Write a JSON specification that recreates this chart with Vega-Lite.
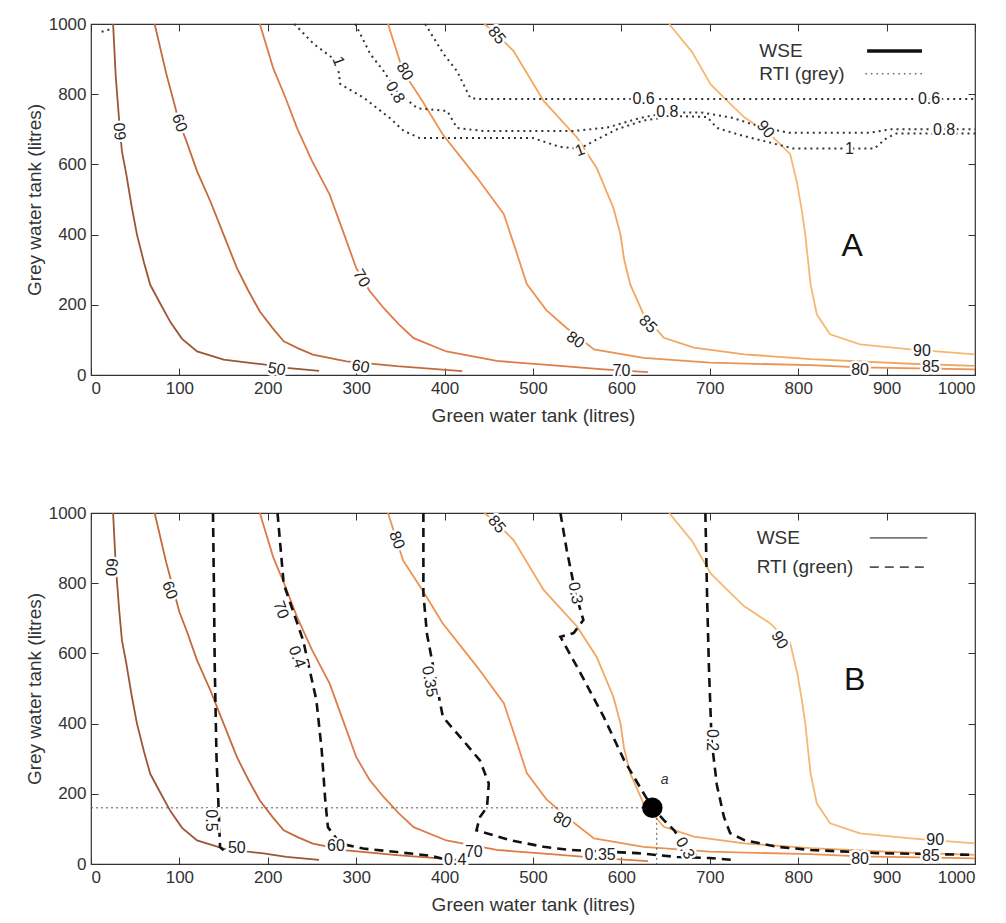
{
  "$schema": "https://vega.github.io/schema/vega-lite/v6.json",
  "padding": {"left": 24, "top": 14, "right": 4, "bottom": 2},
  "background": "white",
  "spacing": 77,
  "config": {
    "font": "Liberation Sans",
    "view": {"stroke": "#333", "strokeWidth": 1.2},
    "axis": {
      "grid": false,
      "labelFont": "Liberation Sans",
      "labelFontSize": 17,
      "labelColor": "#333",
      "titleFont": "Liberation Sans",
      "titleFontSize": 19,
      "titleFontWeight": "normal",
      "titleColor": "#333",
      "tickColor": "#333",
      "domainColor": "#333",
      "tickSize": -7,
      "labelPadding": 12,
      "domain": false,
      "format": "d"
    },
    "axisX": {"titlePadding": 10}
  },
  "datasets": {
    "wse": [
      {"c": "50", "x": 25, "y": 1000}, {"c": "50", "x": 28, "y": 850}, {"c": "50", "x": 32, "y": 720}, {"c": "50", "x": 35, "y": 637}, {"c": "50", "x": 40, "y": 571}, {"c": "50", "x": 46, "y": 480}, {"c": "50", "x": 52, "y": 400}, {"c": "50", "x": 60, "y": 320}, {"c": "50", "x": 67, "y": 257}, {"c": "50", "x": 78, "y": 205}, {"c": "50", "x": 90, "y": 150}, {"c": "50", "x": 103, "y": 103}, {"c": "50", "x": 120, "y": 67}, {"c": "50", "x": 150, "y": 44}, {"c": "50", "x": 195, "y": 30}, {"c": "50", "x": 221, "y": 20}, {"c": "50", "x": 258, "y": 12},
      {"c": "60", "x": 72, "y": 1000}, {"c": "60", "x": 85, "y": 860}, {"c": "60", "x": 100, "y": 718}, {"c": "60", "x": 108, "y": 666}, {"c": "60", "x": 120, "y": 580}, {"c": "60", "x": 135, "y": 495}, {"c": "60", "x": 150, "y": 400}, {"c": "60", "x": 165, "y": 305}, {"c": "60", "x": 178, "y": 240}, {"c": "60", "x": 191, "y": 181}, {"c": "60", "x": 205, "y": 135}, {"c": "60", "x": 218, "y": 96}, {"c": "60", "x": 235, "y": 75}, {"c": "60", "x": 251, "y": 58}, {"c": "60", "x": 289, "y": 39}, {"c": "60", "x": 346, "y": 25}, {"c": "60", "x": 420, "y": 11},
      {"c": "70", "x": 191, "y": 1000}, {"c": "70", "x": 206, "y": 875}, {"c": "70", "x": 220, "y": 790}, {"c": "70", "x": 233, "y": 704}, {"c": "70", "x": 250, "y": 610}, {"c": "70", "x": 270, "y": 514}, {"c": "70", "x": 285, "y": 410}, {"c": "70", "x": 300, "y": 305}, {"c": "70", "x": 315, "y": 240}, {"c": "70", "x": 331, "y": 191}, {"c": "70", "x": 348, "y": 145}, {"c": "70", "x": 365, "y": 105}, {"c": "70", "x": 402, "y": 67}, {"c": "70", "x": 459, "y": 40}, {"c": "70", "x": 520, "y": 28}, {"c": "70", "x": 580, "y": 16}, {"c": "70", "x": 630, "y": 8},
      {"c": "80", "x": 336, "y": 1000}, {"c": "80", "x": 353, "y": 865}, {"c": "80", "x": 375, "y": 780}, {"c": "80", "x": 398, "y": 685}, {"c": "80", "x": 437, "y": 561}, {"c": "80", "x": 467, "y": 458}, {"c": "80", "x": 480, "y": 360}, {"c": "80", "x": 493, "y": 259}, {"c": "80", "x": 515, "y": 185}, {"c": "80", "x": 538, "y": 134}, {"c": "80", "x": 569, "y": 73}, {"c": "80", "x": 625, "y": 49}, {"c": "80", "x": 700, "y": 35}, {"c": "80", "x": 814, "y": 28}, {"c": "80", "x": 870, "y": 22}, {"c": "80", "x": 1000, "y": 16},
      {"c": "85", "x": 445, "y": 1000}, {"c": "85", "x": 459, "y": 971}, {"c": "85", "x": 478, "y": 923}, {"c": "85", "x": 512, "y": 781}, {"c": "85", "x": 550, "y": 676}, {"c": "85", "x": 572, "y": 590}, {"c": "85", "x": 591, "y": 476}, {"c": "85", "x": 599, "y": 400}, {"c": "85", "x": 603, "y": 330}, {"c": "85", "x": 610, "y": 258}, {"c": "85", "x": 625, "y": 173}, {"c": "85", "x": 648, "y": 106}, {"c": "85", "x": 682, "y": 78}, {"c": "85", "x": 739, "y": 59}, {"c": "85", "x": 814, "y": 45}, {"c": "85", "x": 927, "y": 32}, {"c": "85", "x": 1000, "y": 26},
      {"c": "90", "x": 654, "y": 1000}, {"c": "90", "x": 680, "y": 920}, {"c": "90", "x": 701, "y": 828}, {"c": "90", "x": 720, "y": 780}, {"c": "90", "x": 739, "y": 734}, {"c": "90", "x": 768, "y": 686}, {"c": "90", "x": 791, "y": 629}, {"c": "90", "x": 799, "y": 543}, {"c": "90", "x": 804, "y": 470}, {"c": "90", "x": 808, "y": 400}, {"c": "90", "x": 814, "y": 258}, {"c": "90", "x": 821, "y": 173}, {"c": "90", "x": 836, "y": 116}, {"c": "90", "x": 870, "y": 87}, {"c": "90", "x": 927, "y": 73}, {"c": "90", "x": 1000, "y": 59}
    ],
    "rtiA": [
      {"c": "r06", "i": 0, "x": 378, "y": 1000}, {"c": "r06", "i": 1, "x": 399, "y": 914}, {"c": "r06", "i": 2, "x": 414, "y": 866}, {"c": "r06", "i": 3, "x": 429, "y": 789}, {"c": "r06", "i": 4, "x": 440, "y": 786}, {"c": "r06", "i": 5, "x": 1000, "y": 786},
      {"c": "r08", "i": 0, "x": 299, "y": 1000}, {"c": "r08", "i": 1, "x": 316, "y": 914}, {"c": "r08", "i": 2, "x": 331, "y": 866}, {"c": "r08", "i": 3, "x": 346, "y": 809}, {"c": "r08", "i": 4, "x": 369, "y": 760}, {"c": "r08", "i": 5, "x": 403, "y": 752}, {"c": "r08", "i": 6, "x": 414, "y": 704}, {"c": "r08", "i": 7, "x": 444, "y": 695}, {"c": "r08", "i": 8, "x": 545, "y": 695}, {"c": "r08", "i": 9, "x": 584, "y": 705}, {"c": "r08", "i": 10, "x": 621, "y": 732}, {"c": "r08", "i": 11, "x": 652, "y": 748}, {"c": "r08", "i": 12, "x": 690, "y": 748}, {"c": "r08", "i": 13, "x": 725, "y": 733}, {"c": "r08", "i": 14, "x": 760, "y": 705}, {"c": "r08", "i": 15, "x": 790, "y": 690}, {"c": "r08", "i": 16, "x": 880, "y": 690}, {"c": "r08", "i": 17, "x": 905, "y": 700}, {"c": "r08", "i": 18, "x": 1000, "y": 700},
      {"c": "r1", "i": 0, "x": 230, "y": 1000}, {"c": "r1", "i": 1, "x": 252, "y": 943}, {"c": "r1", "i": 2, "x": 275, "y": 900}, {"c": "r1", "i": 3, "x": 280, "y": 866}, {"c": "r1", "i": 4, "x": 282, "y": 829}, {"c": "r1", "i": 5, "x": 309, "y": 789}, {"c": "r1", "i": 6, "x": 338, "y": 732}, {"c": "r1", "i": 7, "x": 354, "y": 695}, {"c": "r1", "i": 8, "x": 372, "y": 675}, {"c": "r1", "i": 9, "x": 500, "y": 675}, {"c": "r1", "i": 10, "x": 530, "y": 650}, {"c": "r1", "i": 11, "x": 553, "y": 645}, {"c": "r1", "i": 12, "x": 569, "y": 667}, {"c": "r1", "i": 13, "x": 595, "y": 700}, {"c": "r1", "i": 14, "x": 625, "y": 725}, {"c": "r1", "i": 15, "x": 660, "y": 738}, {"c": "r1", "i": 16, "x": 697, "y": 735}, {"c": "r1", "i": 17, "x": 708, "y": 704}, {"c": "r1", "i": 18, "x": 731, "y": 686}, {"c": "r1", "i": 19, "x": 776, "y": 657}, {"c": "r1", "i": 20, "x": 795, "y": 645}, {"c": "r1", "i": 21, "x": 886, "y": 645}, {"c": "r1", "i": 22, "x": 900, "y": 675}, {"c": "r1", "i": 23, "x": 911, "y": 688}, {"c": "r1", "i": 24, "x": 1000, "y": 688},
      {"c": "r1b", "i": 0, "x": 12, "y": 978}, {"c": "r1b", "i": 1, "x": 22, "y": 985}
    ],
    "rtiB": [
      {"c": "g05", "i": 0, "x": 138, "y": 1000}, {"c": "g05", "i": 1, "x": 139, "y": 800}, {"c": "g05", "i": 2, "x": 140, "y": 561}, {"c": "g05", "i": 3, "x": 142, "y": 300}, {"c": "g05", "i": 4, "x": 144, "y": 181}, {"c": "g05", "i": 5, "x": 146, "y": 48}, {"c": "g05", "i": 6, "x": 152, "y": 35},
      {"c": "g04", "i": 0, "x": 211, "y": 1000}, {"c": "g04", "i": 1, "x": 218, "y": 798}, {"c": "g04", "i": 2, "x": 240, "y": 637}, {"c": "g04", "i": 3, "x": 255, "y": 466}, {"c": "g04", "i": 4, "x": 261, "y": 324}, {"c": "g04", "i": 5, "x": 265, "y": 181}, {"c": "g04", "i": 6, "x": 268, "y": 105}, {"c": "g04", "i": 7, "x": 282, "y": 58}, {"c": "g04", "i": 8, "x": 308, "y": 44}, {"c": "g04", "i": 9, "x": 346, "y": 34}, {"c": "g04", "i": 10, "x": 383, "y": 24}, {"c": "g04", "i": 11, "x": 398, "y": 15}, {"c": "g04", "i": 12, "x": 420, "y": 8},
      {"c": "g035", "i": 0, "x": 376, "y": 1000}, {"c": "g035", "i": 1, "x": 376, "y": 770}, {"c": "g035", "i": 2, "x": 380, "y": 656}, {"c": "g035", "i": 3, "x": 398, "y": 419}, {"c": "g035", "i": 4, "x": 421, "y": 352}, {"c": "g035", "i": 5, "x": 440, "y": 295}, {"c": "g035", "i": 6, "x": 450, "y": 229}, {"c": "g035", "i": 7, "x": 448, "y": 162}, {"c": "g035", "i": 8, "x": 440, "y": 134}, {"c": "g035", "i": 9, "x": 436, "y": 96}, {"c": "g035", "i": 10, "x": 474, "y": 68}, {"c": "g035", "i": 11, "x": 512, "y": 49}, {"c": "g035", "i": 12, "x": 542, "y": 40}, {"c": "g035", "i": 13, "x": 618, "y": 31}, {"c": "g035", "i": 14, "x": 663, "y": 20}, {"c": "g035", "i": 15, "x": 700, "y": 17}, {"c": "g035", "i": 16, "x": 729, "y": 11},
      {"c": "g03", "i": 0, "x": 531, "y": 1000}, {"c": "g03", "i": 1, "x": 538, "y": 897}, {"c": "g03", "i": 2, "x": 548, "y": 772}, {"c": "g03", "i": 3, "x": 557, "y": 695}, {"c": "g03", "i": 4, "x": 546, "y": 658}, {"c": "g03", "i": 5, "x": 531, "y": 647}, {"c": "g03", "i": 6, "x": 550, "y": 561}, {"c": "g03", "i": 7, "x": 580, "y": 419}, {"c": "g03", "i": 8, "x": 603, "y": 296}, {"c": "g03", "i": 9, "x": 621, "y": 219}, {"c": "g03", "i": 10, "x": 635, "y": 160}, {"c": "g03", "i": 11, "x": 648, "y": 125}, {"c": "g03", "i": 12, "x": 660, "y": 95}, {"c": "g03", "i": 13, "x": 672, "y": 50}, {"c": "g03", "i": 14, "x": 690, "y": 15},
      {"c": "g02", "i": 0, "x": 695, "y": 1000}, {"c": "g02", "i": 1, "x": 697, "y": 755}, {"c": "g02", "i": 2, "x": 699, "y": 561}, {"c": "g02", "i": 3, "x": 702, "y": 353}, {"c": "g02", "i": 4, "x": 708, "y": 225}, {"c": "g02", "i": 5, "x": 716, "y": 134}, {"c": "g02", "i": 6, "x": 723, "y": 88}, {"c": "g02", "i": 7, "x": 739, "y": 68}, {"c": "g02", "i": 8, "x": 776, "y": 49}, {"c": "g02", "i": 9, "x": 814, "y": 40}, {"c": "g02", "i": 10, "x": 889, "y": 31}, {"c": "g02", "i": 11, "x": 1000, "y": 26}
    ],
    "lab": [
      {"p": "A", "x": 33, "y": 694, "t": "60", "a": -95},
      {"p": "A", "x": 100, "y": 718, "t": "60", "a": 70},
      {"p": "A", "x": 306, "y": 276, "t": "70", "a": 60},
      {"p": "A", "x": 210, "y": 17, "t": "50", "a": 10},
      {"p": "A", "x": 305, "y": 24, "t": "60", "a": 10},
      {"p": "A", "x": 355, "y": 865, "t": "80", "a": 60},
      {"p": "A", "x": 344, "y": 805, "t": "0.8", "a": 60},
      {"p": "A", "x": 280, "y": 894, "t": "1", "a": 70},
      {"p": "A", "x": 459, "y": 968, "t": "85", "a": 50},
      {"p": "A", "x": 548, "y": 100, "t": "80", "a": 35},
      {"p": "A", "x": 630, "y": 145, "t": "85", "a": 45},
      {"p": "A", "x": 600, "y": 12, "t": "70", "a": 0},
      {"p": "A", "x": 763, "y": 700, "t": "90", "a": 50},
      {"p": "A", "x": 870, "y": 14, "t": "80", "a": 0},
      {"p": "A", "x": 950, "y": 22, "t": "85", "a": 0},
      {"p": "A", "x": 940, "y": 68, "t": "90", "a": 0},
      {"p": "A", "x": 625, "y": 786, "t": "0.6", "a": 0},
      {"p": "A", "x": 948, "y": 786, "t": "0.6", "a": 0},
      {"p": "A", "x": 652, "y": 748, "t": "0.8", "a": 0},
      {"p": "A", "x": 965, "y": 698, "t": "0.8", "a": 0},
      {"p": "A", "x": 553, "y": 640, "t": "1", "a": -20},
      {"p": "A", "x": 858, "y": 645, "t": "1", "a": 0},
      {"p": "B", "x": 23, "y": 846, "t": "60", "a": 95},
      {"p": "B", "x": 89, "y": 780, "t": "60", "a": 70},
      {"p": "B", "x": 215, "y": 724, "t": "70", "a": 70},
      {"p": "B", "x": 233, "y": 590, "t": "0.4", "a": 70},
      {"p": "B", "x": 383, "y": 520, "t": "0.35", "a": 80},
      {"p": "B", "x": 346, "y": 923, "t": "80", "a": 70},
      {"p": "B", "x": 459, "y": 968, "t": "85", "a": 50},
      {"p": "B", "x": 548, "y": 772, "t": "0.3", "a": 80},
      {"p": "B", "x": 779, "y": 638, "t": "90", "a": 60},
      {"p": "B", "x": 702, "y": 353, "t": "0.2", "a": 90},
      {"p": "B", "x": 533, "y": 125, "t": "80", "a": 30},
      {"p": "B", "x": 136, "y": 124, "t": "0.5", "a": 90},
      {"p": "B", "x": 165, "y": 45, "t": "50", "a": 0},
      {"p": "B", "x": 277, "y": 50, "t": "60", "a": 0},
      {"p": "B", "x": 433, "y": 34, "t": "70", "a": 0},
      {"p": "B", "x": 412, "y": 12, "t": "0.4", "a": 0},
      {"p": "B", "x": 576, "y": 26, "t": "0.35", "a": 0},
      {"p": "B", "x": 672, "y": 45, "t": "0.3", "a": 60},
      {"p": "B", "x": 870, "y": 14, "t": "80", "a": 0},
      {"p": "B", "x": 950, "y": 22, "t": "85", "a": 0},
      {"p": "B", "x": 955, "y": 68, "t": "90", "a": 0}
    ],
    "big": [
      {"p": "A", "x": 861, "y": 368, "t": "A"},
      {"p": "B", "x": 864, "y": 524, "t": "B"}
    ],
    "legt": [
      {"p": "A", "t": "WSE", "x": 756, "y": 923},
      {"p": "A", "t": "RTI (grey)", "x": 756, "y": 858},
      {"p": "B", "t": "WSE", "x": 753, "y": 929},
      {"p": "B", "t": "RTI (green)", "x": 753, "y": 846}
    ],
    "legs": [
      {"p": "A", "k": "solid", "x": 878, "x2": 940, "y": 923},
      {"p": "A", "k": "dot", "x": 876, "x2": 940, "y": 858},
      {"p": "B", "k": "solid", "x": 881, "x2": 946, "y": 929},
      {"p": "B", "k": "dash", "x": 881, "x2": 946, "y": 846}
    ],
    "guide": [
      {"x": 0, "x2": 635, "y": 160, "y2": 160},
      {"x": 640, "x2": 640, "y": 160, "y2": 0}
    ],
    "pt": [
      {"x": 635, "y": 160, "t": "a", "lx": 649, "ly": 239}
    ]
  },
  "vconcat": [
    {
      "width": 884,
      "height": 351,
      "resolve": {"axis": {"x": "independent", "y": "independent"}},
      "layer": [
        {
          "data": {"name": "wse"},
          "mark": {"type": "line", "strokeWidth": 1.8},
          "encoding": {
            "x": {"field": "x", "type": "quantitative", "scale": {"domain": [0, 1000], "nice": false}, "axis": {"orient": "bottom", "title": "Green water tank (litres)", "values": [0, 100, 200, 300, 400, 500, 600, 700, 800, 900, 1000]}},
            "y": {"field": "y", "type": "quantitative", "scale": {"domain": [0, 1000], "nice": false}, "axis": {"orient": "left", "title": "Grey water tank (litres)", "values": [0, 200, 400, 600, 800, 1000]}},
            "color": {"field": "c", "type": "nominal", "legend": null, "scale": {"domain": ["50", "60", "70", "80", "85", "90"], "range": ["#9c5636", "#c4693a", "#dc7c48", "#ec9252", "#f2a660", "#f6b872"]}},
            "order": {"field": "y", "sort": "descending"}
          }
        },
        {
          "data": {"name": "rtiA"},
          "mark": {"type": "line", "strokeWidth": 2, "strokeDash": [2, 4], "color": "#333"},
          "encoding": {
            "x": {"field": "x", "type": "quantitative", "axis": {"orient": "top", "labels": false, "title": null, "values": [0, 100, 200, 300, 400, 500, 600, 700, 800, 900, 1000]}},
            "y": {"field": "y", "type": "quantitative", "axis": {"orient": "right", "labels": false, "title": null, "values": [0, 200, 400, 600, 800, 1000]}},
            "detail": {"field": "c"},
            "order": {"field": "i"}
          }
        },
        {
          "data": {"name": "lab"},
          "transform": [{"filter": "datum.p === 'A'"}],
          "mark": {"type": "text", "fontSize": 16, "stroke": "white", "strokeWidth": 5, "fill": "white", "align": "center", "baseline": "middle"},
          "encoding": {
            "x": {"field": "x", "type": "quantitative", "axis": null},
            "y": {"field": "y", "type": "quantitative", "axis": null},
            "text": {"field": "t"},
            "angle": {"field": "a", "type": "quantitative", "scale": null}
          }
        },
        {
          "data": {"name": "lab"},
          "transform": [{"filter": "datum.p === 'A'"}],
          "mark": {"type": "text", "fontSize": 16, "color": "#222", "align": "center", "baseline": "middle"},
          "encoding": {
            "x": {"field": "x", "type": "quantitative", "axis": null},
            "y": {"field": "y", "type": "quantitative", "axis": null},
            "text": {"field": "t"},
            "angle": {"field": "a", "type": "quantitative", "scale": null}
          }
        },
        {
          "data": {"name": "big"},
          "transform": [{"filter": "datum.p === 'A'"}],
          "mark": {"type": "text", "fontSize": 32, "color": "#111", "align": "center", "baseline": "middle"},
          "encoding": {
            "x": {"field": "x", "type": "quantitative", "axis": null},
            "y": {"field": "y", "type": "quantitative", "axis": null},
            "text": {"field": "t"}
          }
        },
        {
          "data": {"name": "legt"},
          "transform": [{"filter": "datum.p === 'A'"}],
          "mark": {"type": "text", "fontSize": 19, "color": "#333", "align": "left", "baseline": "middle"},
          "encoding": {
            "x": {"field": "x", "type": "quantitative", "axis": null},
            "y": {"field": "y", "type": "quantitative", "axis": null},
            "text": {"field": "t"}
          }
        },
        {
          "data": {"name": "legs"},
          "transform": [{"filter": "datum.p === 'A' && datum.k === 'solid'"}],
          "mark": {"type": "rule", "strokeWidth": 3.5, "color": "#111"},
          "encoding": {
            "x": {"field": "x", "type": "quantitative", "axis": null},
            "x2": {"field": "x2"},
            "y": {"field": "y", "type": "quantitative", "axis": null}
          }
        },
        {
          "data": {"name": "legs"},
          "transform": [{"filter": "datum.p === 'A' && datum.k === 'dot'"}],
          "mark": {"type": "rule", "strokeWidth": 1.5, "strokeDash": [1.5, 4], "color": "#666"},
          "encoding": {
            "x": {"field": "x", "type": "quantitative", "axis": null},
            "x2": {"field": "x2"},
            "y": {"field": "y", "type": "quantitative", "axis": null}
          }
        }
      ]
    },
    {
      "width": 884,
      "height": 351,
      "resolve": {"axis": {"x": "independent", "y": "independent"}},
      "layer": [
        {
          "data": {"name": "wse"},
          "mark": {"type": "line", "strokeWidth": 1.8},
          "encoding": {
            "x": {"field": "x", "type": "quantitative", "scale": {"domain": [0, 1000], "nice": false}, "axis": {"orient": "bottom", "title": "Green water tank (litres)", "values": [0, 100, 200, 300, 400, 500, 600, 700, 800, 900, 1000]}},
            "y": {"field": "y", "type": "quantitative", "scale": {"domain": [0, 1000], "nice": false}, "axis": {"orient": "left", "title": "Grey water tank (litres)", "values": [0, 200, 400, 600, 800, 1000]}},
            "color": {"field": "c", "type": "nominal", "legend": null, "scale": {"domain": ["50", "60", "70", "80", "85", "90"], "range": ["#9c5636", "#c4693a", "#dc7c48", "#ec9252", "#f2a660", "#f6b872"]}},
            "order": {"field": "y", "sort": "descending"}
          }
        },
        {
          "data": {"name": "guide"},
          "mark": {"type": "rule", "strokeWidth": 1, "strokeDash": [2, 3], "color": "#555"},
          "encoding": {
            "x": {"field": "x", "type": "quantitative", "axis": null},
            "x2": {"field": "x2"},
            "y": {"field": "y", "type": "quantitative", "axis": null},
            "y2": {"field": "y2"}
          }
        },
        {
          "data": {"name": "rtiB"},
          "mark": {"type": "line", "strokeWidth": 2.6, "strokeDash": [9, 6], "color": "#111"},
          "encoding": {
            "x": {"field": "x", "type": "quantitative", "axis": {"orient": "top", "labels": false, "title": null, "values": [0, 100, 200, 300, 400, 500, 600, 700, 800, 900, 1000]}},
            "y": {"field": "y", "type": "quantitative", "axis": {"orient": "right", "labels": false, "title": null, "values": [0, 200, 400, 600, 800, 1000]}},
            "detail": {"field": "c"},
            "order": {"field": "i"}
          }
        },
        {
          "data": {"name": "lab"},
          "transform": [{"filter": "datum.p === 'B'"}],
          "mark": {"type": "text", "fontSize": 16, "stroke": "white", "strokeWidth": 5, "fill": "white", "align": "center", "baseline": "middle"},
          "encoding": {
            "x": {"field": "x", "type": "quantitative", "axis": null},
            "y": {"field": "y", "type": "quantitative", "axis": null},
            "text": {"field": "t"},
            "angle": {"field": "a", "type": "quantitative", "scale": null}
          }
        },
        {
          "data": {"name": "lab"},
          "transform": [{"filter": "datum.p === 'B'"}],
          "mark": {"type": "text", "fontSize": 16, "color": "#222", "align": "center", "baseline": "middle"},
          "encoding": {
            "x": {"field": "x", "type": "quantitative", "axis": null},
            "y": {"field": "y", "type": "quantitative", "axis": null},
            "text": {"field": "t"},
            "angle": {"field": "a", "type": "quantitative", "scale": null}
          }
        },
        {
          "data": {"name": "pt"},
          "mark": {"type": "point", "filled": true, "size": 420, "color": "#000", "opacity": 1},
          "encoding": {
            "x": {"field": "x", "type": "quantitative", "axis": null},
            "y": {"field": "y", "type": "quantitative", "axis": null}
          }
        },
        {
          "data": {"name": "pt"},
          "mark": {"type": "text", "fontSize": 14, "fontStyle": "italic", "color": "#333", "align": "center", "baseline": "middle"},
          "encoding": {
            "x": {"field": "lx", "type": "quantitative", "axis": null},
            "y": {"field": "ly", "type": "quantitative", "axis": null},
            "text": {"field": "t"}
          }
        },
        {
          "data": {"name": "big"},
          "transform": [{"filter": "datum.p === 'B'"}],
          "mark": {"type": "text", "fontSize": 32, "color": "#111", "align": "center", "baseline": "middle"},
          "encoding": {
            "x": {"field": "x", "type": "quantitative", "axis": null},
            "y": {"field": "y", "type": "quantitative", "axis": null},
            "text": {"field": "t"}
          }
        },
        {
          "data": {"name": "legt"},
          "transform": [{"filter": "datum.p === 'B'"}],
          "mark": {"type": "text", "fontSize": 19, "color": "#333", "align": "left", "baseline": "middle"},
          "encoding": {
            "x": {"field": "x", "type": "quantitative", "axis": null},
            "y": {"field": "y", "type": "quantitative", "axis": null},
            "text": {"field": "t"}
          }
        },
        {
          "data": {"name": "legs"},
          "transform": [{"filter": "datum.p === 'B' && datum.k === 'solid'"}],
          "mark": {"type": "rule", "strokeWidth": 1.8, "color": "#777"},
          "encoding": {
            "x": {"field": "x", "type": "quantitative", "axis": null},
            "x2": {"field": "x2"},
            "y": {"field": "y", "type": "quantitative", "axis": null}
          }
        },
        {
          "data": {"name": "legs"},
          "transform": [{"filter": "datum.p === 'B' && datum.k === 'dash'"}],
          "mark": {"type": "rule", "strokeWidth": 1.8, "strokeDash": [9, 6], "color": "#555"},
          "encoding": {
            "x": {"field": "x", "type": "quantitative", "axis": null},
            "x2": {"field": "x2"},
            "y": {"field": "y", "type": "quantitative", "axis": null}
          }
        }
      ]
    }
  ]
}
